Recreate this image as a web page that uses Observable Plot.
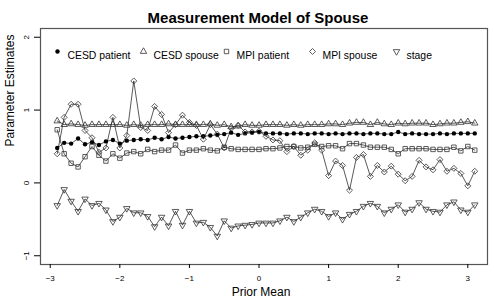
<!DOCTYPE html>
<html><head><meta charset="utf-8">
<script src="https://cdn.jsdelivr.net/npm/d3@7"></script>
<script src="https://cdn.jsdelivr.net/npm/@observablehq/plot@0.6"></script>
<style>
html,body{margin:0;padding:0;background:#fff;}
#chart{width:494px;height:305px;}
</style></head><body><div id="chart"></div>
<script>
const priorMean = [-2.9,-2.8,-2.7,-2.6,-2.5,-2.4,-2.3,-2.2,-2.1,-2.0,-1.9,-1.8,-1.7,-1.6,-1.5,-1.4,-1.3,-1.2,-1.1,-1.0,-0.9,-0.8,-0.7,-0.6,-0.5,-0.4,-0.3,-0.2,-0.1,0.0,0.1,0.2,0.3,0.4,0.5,0.6,0.7,0.8,0.9,1.0,1.1,1.2,1.3,1.4,1.5,1.6,1.7,1.8,1.9,2.0,2.1,2.2,2.3,2.4,2.5,2.6,2.7,2.8,2.9,3.0,3.1];
const cesdPatient = [0.48,0.55,0.54,0.61,0.53,0.56,0.52,0.57,0.59,0.54,0.58,0.59,0.60,0.59,0.62,0.60,0.63,0.61,0.62,0.63,0.64,0.64,0.65,0.66,0.67,0.69,0.66,0.68,0.69,0.70,0.68,0.68,0.68,0.67,0.68,0.68,0.67,0.68,0.68,0.67,0.68,0.67,0.68,0.68,0.67,0.68,0.68,0.67,0.67,0.70,0.67,0.68,0.67,0.67,0.67,0.68,0.67,0.68,0.68,0.68,0.68];
const cesdSpouse = [0.85,0.80,0.81,0.80,0.79,0.80,0.80,0.80,0.80,0.80,0.79,0.80,0.79,0.80,0.80,0.80,0.81,0.80,0.80,0.80,0.80,0.80,0.81,0.79,0.80,0.77,0.78,0.80,0.79,0.79,0.80,0.80,0.80,0.79,0.80,0.79,0.80,0.80,0.80,0.81,0.81,0.80,0.82,0.83,0.83,0.80,0.83,0.81,0.80,0.82,0.81,0.82,0.82,0.82,0.80,0.81,0.82,0.82,0.83,0.84,0.82];
const mpiPatient = [0.73,0.40,0.27,0.22,0.36,0.50,0.38,0.30,0.40,0.34,0.41,0.43,0.40,0.46,0.43,0.45,0.45,0.52,0.41,0.45,0.45,0.47,0.45,0.44,0.49,0.47,0.46,0.46,0.46,0.46,0.47,0.47,0.48,0.50,0.50,0.48,0.49,0.53,0.50,0.51,0.51,0.47,0.54,0.54,0.52,0.49,0.49,0.49,0.46,0.40,0.47,0.47,0.47,0.47,0.46,0.46,0.46,0.49,0.44,0.50,0.45];
const mpiSpouse = [0.40,0.90,1.08,1.08,0.72,0.62,0.42,0.48,0.90,0.48,0.65,1.40,0.76,0.72,1.05,0.94,0.69,0.80,0.93,0.83,0.79,0.60,0.80,0.67,0.48,0.75,0.79,0.70,0.70,0.71,0.64,0.59,0.58,0.43,0.50,0.38,0.45,0.55,0.45,0.10,0.30,0.24,-0.10,0.35,0.39,0.09,0.24,0.15,0.23,0.12,0.03,0.09,0.31,0.22,0.18,0.32,0.16,0.20,0.13,-0.04,0.16];
const stage = [-0.31,-0.09,-0.25,-0.39,-0.22,-0.31,-0.28,-0.37,-0.53,-0.47,-0.35,-0.41,-0.41,-0.46,-0.60,-0.47,-0.59,-0.39,-0.58,-0.39,-0.55,-0.54,-0.61,-0.73,-0.52,-0.62,-0.59,-0.58,-0.57,-0.55,-0.55,-0.55,-0.52,-0.47,-0.53,-0.47,-0.41,-0.36,-0.39,-0.46,-0.41,-0.50,-0.43,-0.39,-0.32,-0.28,-0.32,-0.41,-0.36,-0.30,-0.40,-0.36,-0.27,-0.36,-0.39,-0.40,-0.30,-0.26,-0.37,-0.40,-0.30];
const seriesNames = ["CESD patient","CESD spouse","MPI patient","MPI spouse","stage"];
const xTicks = [-3,-2,-1,0,1,2,3];
const yTicks = [-1,0,1,2];
const titleText = "Measurement Model of Spouse";
const xLabel = "Prior Mean";
const yLabel = "Parameter Estimates";

// layout / style (kept apart from the data)
const triangleDown = {
  draw(context, size) {
    const s3 = Math.sqrt(3);
    const y = Math.sqrt(size / (s3 * 3));
    context.moveTo(0, y * 2);
    context.lineTo(-s3 * y, -y);
    context.lineTo(s3 * y, -y);
    context.closePath();
  }
};
const styles = [
  {symbol: "circle", r: 2.2, fill: "black", stroke: "none"},
  {symbol: "triangle", r: 2.4, fill: "none", stroke: "#333"},
  {symbol: "square", r: 2.5, fill: "none", stroke: "#333"},
  {symbol: "diamond2", r: 2.7, fill: "none", stroke: "#333"},
  {symbol: triangleDown, r: 2.4, fill: "none", stroke: "#333"}
];
const legendDx = [17, 103, 186, 272, 356];
const font = "'Liberation Sans', Arial, Helvetica, sans-serif";

const values = [cesdPatient, cesdSpouse, mpiPatient, mpiSpouse, stage];
const tables = values.map((vals, k) => priorMean.map((x, i) => ({x, y: vals[i], series: seriesNames[k]})));

const marks = [Plot.frame({stroke: "#555", strokeWidth: 1.2})];
tables.forEach((t) => {
  marks.push(Plot.line(t, {x: "x", y: "y", stroke: "#111", strokeWidth: 0.7}));
});
tables.forEach((t, k) => {
  const s = styles[k];
  marks.push(Plot.dot(t, {x: "x", y: "y", symbol: () => s.symbol, r: s.r, fill: s.fill, stroke: s.stroke, strokeWidth: 0.8}));
});
// legend
seriesNames.forEach((name, k) => {
  const s = styles[k];
  marks.push(Plot.dot([name], {frameAnchor: "top-left", dx: legendDx[k], dy: 23, symbol: () => s.symbol, r: s.r, fill: s.fill, stroke: s.stroke, strokeWidth: 0.8}));
  marks.push(Plot.text([name], {frameAnchor: "top-left", dx: legendDx[k] + 10, dy: 23, text: d => d, textAnchor: "start", fontSize: 10.4, fill: "black"}));
});
const fmt = d => d < 0 ? "\u2212" + Math.abs(d) : String(d);
marks.push(Plot.axisX({ticks: xTicks, tickSize: 4, tickPadding: 7, fontSize: 8, label: null, tickFormat: fmt}));
marks.push(Plot.axisY({ticks: yTicks, tickSize: 6, tickPadding: 6, fontSize: 8, label: null, tickRotate: -90, tickFormat: fmt}));
marks.push(Plot.text([titleText], {frameAnchor: "top", dx: -6, dy: -16, text: d => d, fontSize: 15, fontWeight: "bold", fill: "black"}));
marks.push(Plot.text([xLabel], {frameAnchor: "bottom", dx: -3, dy: 31, text: d => d, fontSize: 12, fill: "black"}));
marks.push(Plot.text([yLabel], {frameAnchor: "left", dx: -30, rotate: -90, text: d => d, fontSize: 12, fill: "black"}));

const chart = Plot.plot({
  width: 494, height: 305,
  marginLeft: 40, marginRight: 7, marginTop: 28, marginBottom: 41,
  style: {fontFamily: font, background: "white", color: "black", overflow: "visible"},
  x: {domain: [-3.14, 3.283]},
  y: {domain: [-1.12, 2.12]},
  marks
});
document.getElementById("chart").appendChild(chart);
</script>
</body></html>
